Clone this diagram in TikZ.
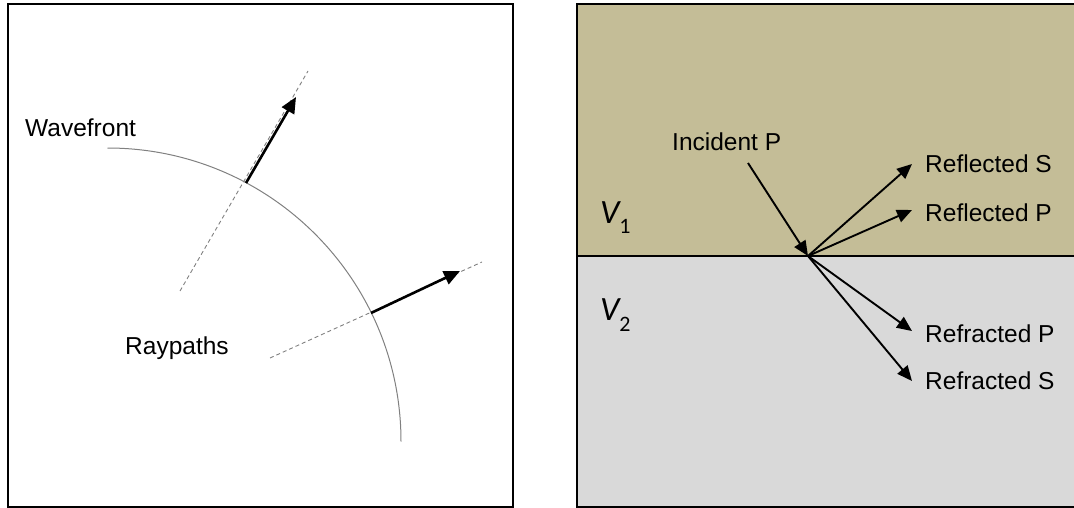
\documentclass[tikz,border=0pt]{standalone}
\usepackage{fontspec}
\setmainfont{Liberation Sans}
\newfontfamily\vfont{Carlito}
\usetikzlibrary{arrows.meta}
\definecolor{tan}{HTML}{C4BD97}
\definecolor{lgray}{HTML}{D9D9D9}
\definecolor{wgray}{HTML}{808080}
\tikzset{
  lbl/.style={inner sep=0pt, anchor=base west, font=\fontsize{24.5}{28}\selectfont},
  vlbl/.style={inner sep=0pt, anchor=base west},
  frame/.style={draw=black, line width=2pt},
  ray/.style={draw=wgray, line width=0.9pt, dash pattern=on 4pt off 3pt},
  bigarrow/.style={line width=2.6pt, -{Triangle[length=16pt,width=14pt]}},
  wave/.style={line width=1.9pt, -{Triangle[length=15pt,width=13pt]}},
  front/.style={draw=wgray, line width=1pt}
}
\begin{document}
\begin{tikzpicture}[x=1pt,y=-1pt]
\useasboundingbox (0,0) rectangle (1074,508);
\clip (0,0) rectangle (1074,508);
% ---------- left panel ----------
\draw[frame] (7.5,4) rectangle (512.5,506.5);
\coordinate (arcstart) at (107.5,148);
\draw[front] (arcstart) arc[start angle=90, end angle=0, radius=293.5pt];
\coordinate (d1a) at (180,291);
\coordinate (d1b) at (308,71);
\coordinate (d2a) at (270,358);
\coordinate (d2b) at (482,262);
\draw[ray] (d1a) -- (d1b);
\draw[ray] (d2a) -- (d2b);
\coordinate (b1) at (246,183);
\coordinate (t1) at (296,97);
\coordinate (b2) at (371,313);
\coordinate (t2) at (460,271);
\draw[bigarrow] (b1) -- (t1);
\draw[bigarrow] (b2) -- (t2);
\node[lbl] (wf) at (25,137) {Wavefront};
\node[lbl] (rp) at (125,354) {Raypaths};
% ---------- right panel ----------
\fill[tan] (577,4) rectangle (1085,256);
\fill[lgray] (577,256) rectangle (1085,506.5);
\draw[frame] (577,4) rectangle (1085,506.5);
\coordinate (ileft) at (577,256);
\coordinate (iright) at (1085,256);
\draw[line width=2pt] (ileft) -- (iright);
\node[vlbl] (v1) at (600,223) {\vfont\fontsize{34}{34}\selectfont\itshape V\upshape\fontsize{22}{22}\selectfont\raisebox{-10pt}{1}};
\node[vlbl] (v2) at (600,320) {\vfont\fontsize{34}{34}\selectfont\itshape V\upshape\fontsize{22}{22}\selectfont\raisebox{-11pt}{2}};
\node[lbl] (inc) at (672,150) {Incident P};
\node[lbl] (rs) at (925,173) {Reflected S};
\node[lbl] (rpp) at (925,222) {Reflected P};
\node[lbl] (fp) at (925,342) {Refracted P};
\node[lbl] (fs) at (925,389) {Refracted S};
\coordinate (O) at (808,256);
\coordinate (istart) at (748,163);
\coordinate (rsT) at (912,164);
\coordinate (rpT) at (912,210);
\coordinate (fpT) at (912,331);
\coordinate (fsT) at (912,381);
\draw[wave] (istart) -- (O);
\draw[wave] (O) -- (rsT);
\draw[wave] (O) -- (rpT);
\draw[wave] (O) -- (fpT);
\draw[wave] (O) -- (fsT);
\end{tikzpicture}
\end{document}
